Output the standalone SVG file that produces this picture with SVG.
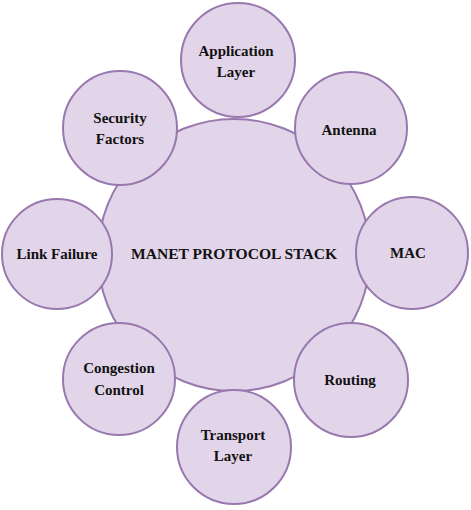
<svg xmlns="http://www.w3.org/2000/svg" width="471" height="510" viewBox="0 0 471 510">
<style>
circle{fill:#e3d5e9;stroke:#9878ae;stroke-width:2}
text{font-family:"Liberation Serif","Times New Roman",serif;font-weight:bold;font-size:15px;fill:#111;text-anchor:middle}
</style>
<rect width="471" height="510" fill="#fff"/>
<g id="connectors"></g>
<g id="center"><circle cx="234" cy="255" r="136"/><text x="234" y="259" textLength="206" lengthAdjust="spacingAndGlyphs">MANET PROTOCOL STACK</text></g>
<g id="app"><circle cx="238" cy="60" r="57"/><text x="236" y="56">Application</text><text x="236" y="77">Layer</text></g>
<g id="antenna"><circle cx="351" cy="128" r="56"/><text x="349" y="135">Antenna</text></g>
<g id="mac"><circle cx="412" cy="253" r="56"/><text x="408" y="258">MAC</text></g>
<g id="routing"><circle cx="351" cy="380" r="57"/><text x="350" y="385">Routing</text></g>
<g id="transport"><circle cx="234" cy="447" r="57"/><text x="233" y="440">Transport</text><text x="233" y="461">Layer</text></g>
<g id="congestion"><circle cx="119" cy="379" r="56"/><text x="119" y="373">Congestion</text><text x="119" y="395">Control</text></g>
<g id="link"><circle cx="57" cy="254" r="55"/><text x="57" y="259">Link Failure</text></g>
<g id="security"><circle cx="120" cy="128" r="57"/><text x="120" y="123">Security</text><text x="120" y="144">Factors</text></g>
</svg>
